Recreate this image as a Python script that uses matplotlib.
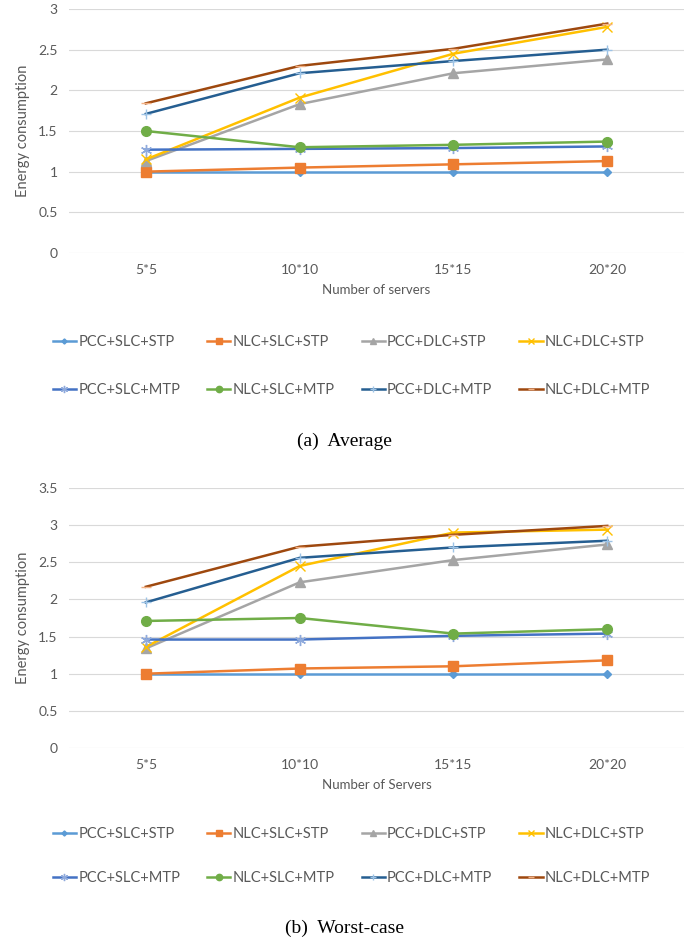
import matplotlib
matplotlib.use("Agg")
import matplotlib.pyplot as plt

categories = ["5*5", "10*10", "15*15", "20*20"]
labels = ["PCC+SLC+STP", "NLC+SLC+STP", "PCC+DLC+STP", "NLC+DLC+STP",
          "PCC+SLC+MTP", "NLC+SLC+MTP", "PCC+DLC+MTP", "NLC+DLC+MTP"]

# (a) Average
avg_pcc_slc_stp = [1.00, 1.00, 1.00, 1.00]
avg_nlc_slc_stp = [1.00, 1.05, 1.09, 1.13]
avg_pcc_dlc_stp = [1.13, 1.83, 2.21, 2.38]
avg_nlc_dlc_stp = [1.15, 1.91, 2.45, 2.78]
avg_pcc_slc_mtp = [1.27, 1.28, 1.29, 1.31]
avg_nlc_slc_mtp = [1.50, 1.30, 1.33, 1.37]
avg_pcc_dlc_mtp = [1.71, 2.21, 2.36, 2.50]
avg_nlc_dlc_mtp = [1.84, 2.30, 2.51, 2.82]

# (b) Worst-case
wc_pcc_slc_stp = [1.00, 1.00, 1.00, 1.00]
wc_nlc_slc_stp = [1.00, 1.07, 1.10, 1.18]
wc_pcc_dlc_stp = [1.34, 2.23, 2.53, 2.74]
wc_nlc_dlc_stp = [1.36, 2.45, 2.90, 2.94]
wc_pcc_slc_mtp = [1.46, 1.46, 1.51, 1.54]
wc_nlc_slc_mtp = [1.71, 1.75, 1.54, 1.60]
wc_pcc_dlc_mtp = [1.96, 2.56, 2.70, 2.79]
wc_nlc_dlc_mtp = [2.17, 2.71, 2.87, 2.99]

avg = [avg_pcc_slc_stp, avg_nlc_slc_stp, avg_pcc_dlc_stp, avg_nlc_dlc_stp,
       avg_pcc_slc_mtp, avg_nlc_slc_mtp, avg_pcc_dlc_mtp, avg_nlc_dlc_mtp]
wc = [wc_pcc_slc_stp, wc_nlc_slc_stp, wc_pcc_dlc_stp, wc_nlc_dlc_stp,
      wc_pcc_slc_mtp, wc_nlc_slc_mtp, wc_pcc_dlc_mtp, wc_nlc_dlc_mtp]

colors = ["#5B9BD5", "#ED7D31", "#A5A5A5", "#FFC000",
          "#4472C4", "#70AD47", "#255E91", "#9E480E"]
mcolors = ["#5B9BD5", "#ED7D31", "#A5A5A5", "#FFC000",
           "#8FAADC", "#70AD47", "#9DC3E6", "#F4B183"]
markers = ["D", "s", "^", "x", (6, 2, 0), "o", "+", "_"]
msizes = [4, 7, 7, 7, 8, 7, 7, 7]

plt.rcParams["font.family"] = ["Lato", "DejaVu Sans"]
txt = "#595959"

fig = plt.figure(figsize=(6.89, 9.43), dpi=100)
ax1 = fig.add_axes([0.100, 0.7317, 0.893, 0.2588])
ax2 = fig.add_axes([0.100, 0.2068, 0.893, 0.2757])


def draw(ax, data, ymax, xlabel, caption, ycap, yleg, lspace):
    x = range(len(categories))
    hs = []
    for i, d in enumerate(data):
        h, = ax.plot(x, d, color=colors[i], lw=1.8, marker=markers[i],
                     ms=msizes[i], mfc=mcolors[i], mec=mcolors[i], mew=1.0,
                     label=labels[i])
        hs.append(h)
    ax.set_xlim(-0.5, 3.5)
    ax.set_ylim(0, ymax)
    ax.set_yticks([v * 0.5 for v in range(int(ymax * 2) + 1)])
    ax.set_yticklabels([("%g" % (v * 0.5)) for v in range(int(ymax * 2) + 1)])
    ax.set_xticks(list(x))
    ax.set_xticklabels(categories)
    ax.grid(axis="y", color="#D9D9D9", lw=0.8)
    ax.set_axisbelow(True)
    for s in ax.spines.values():
        s.set_visible(False)
    ax.tick_params(length=0, colors=txt, labelsize=10, pad=8)
    ax.set_ylabel("Energy consumption", color=txt, fontsize=10.5, labelpad=6)
    ax.set_xlabel(xlabel, color=txt, fontsize=9.5, labelpad=6)
    order = [0, 4, 1, 5, 2, 6, 3, 7]
    leg = fig.legend([hs[k] for k in order], [labels[k] for k in order],
                     ncol=4, loc="center", bbox_to_anchor=(0.51, yleg),
                     frameon=False, fontsize=10.5, labelspacing=lspace,
                     handlelength=1.6, handletextpad=0.15, columnspacing=1.85,
                     markerscale=0.65)
    for t in leg.get_texts():
        t.set_color(txt)
    fig.text(0.5, ycap, caption, ha="center", va="center",
             family="Liberation Serif", fontsize=14)


draw(ax1, avg, 3, "Number of servers", "(a)  Average",
     1 - 441 / 943, 1 - 366 / 943, 2.35)
draw(ax2, wc, 3.5, "Number of Servers", "(b)  Worst-case",
     1 - 928 / 943, 1 - 856 / 943, 2.05)

fig.savefig("out.png", dpi=100)
